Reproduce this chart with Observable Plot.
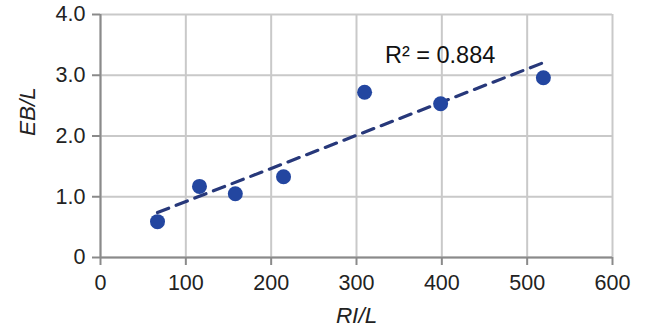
<!DOCTYPE html>
<html>
<head>
<meta charset="utf-8">
<script src="https://cdn.jsdelivr.net/npm/d3@7"></script>
<script src="https://cdn.jsdelivr.net/npm/@observablehq/plot@0.6"></script>
<style>
  html, body { margin: 0; padding: 0; background: #fff; }
</style>
</head>
<body>
<div id="chart"></div>
<script>
const riL = [66.8, 116, 158, 214.5, 309.5, 398.6, 519];
const ebL = [0.59, 1.17, 1.05, 1.33, 2.72, 2.53, 2.96];
const xTicks = [0, 100, 200, 300, 400, 500, 600];
const yTicks = [0, 1, 2, 3, 4];
const xLabel = "RI/L";
const yLabel = "EB/L";
const r2Text = "R² = 0.884";
const r2Pos = [{x: 398, y: 3.32}];

const data = riL.map((x, i) => ({x, y: ebL[i]}));
const gridColor = "#c9c9c9";
const axisColor = "#8a8a8a";

const chart = Plot.plot({
  width: 645,
  height: 331,
  marginLeft: 100,
  marginRight: 33,
  marginTop: 14,
  marginBottom: 74,
  style: {fontFamily: "'Liberation Sans', Arial, sans-serif", fontSize: "21px", color: "#222", background: "#fff"},
  x: {domain: [0, 600]},
  y: {domain: [0, 4]},
  marks: [
    Plot.gridX(xTicks, {stroke: gridColor, strokeOpacity: 1, strokeWidth: 2}),
    Plot.gridY(yTicks, {stroke: gridColor, strokeOpacity: 1, strokeWidth: 2}),
    Plot.ruleY([0], {stroke: axisColor, strokeWidth: 2}),
    Plot.ruleX([0], {stroke: axisColor, strokeWidth: 2}),
    Plot.axisX(xTicks, {tickSize: 8, tickPadding: 9, stroke: axisColor, strokeWidth: 2, fill: "#222", fontSize: 21.5, label: null}),
    Plot.axisY(yTicks, {tickSize: 8, tickPadding: 7, stroke: axisColor, strokeWidth: 2, fill: "#222", fontSize: 21.5, label: null,
      tickFormat: d => d === 0 ? "0" : d.toFixed(1)}),
    Plot.linearRegressionY(data, {x: "x", y: "y", ci: 0, stroke: "#27387a", strokeWidth: 3.2, strokeDasharray: "12,8"}),
    Plot.dot(data, {x: "x", y: "y", r: 7.5, fill: "#2346a0", stroke: "none"}),
    Plot.text(r2Pos, {x: "x", y: "y", text: () => r2Text, fontSize: 23.5, fill: "#111"}),
    Plot.text([xLabel], {frameAnchor: "bottom", dy: 65, text: d => d, fontSize: 22.5, fontStyle: "italic", fill: "#222"}),
    Plot.text([yLabel], {frameAnchor: "left", dx: -73, rotate: -90, text: d => d, fontSize: 22.5, fontStyle: "italic", fill: "#222"})
  ]
});
document.getElementById("chart").appendChild(chart);
</script>
</body>
</html>
